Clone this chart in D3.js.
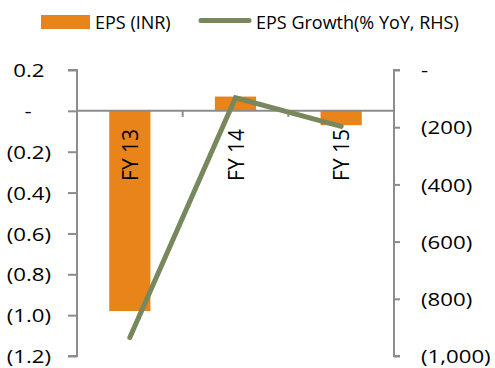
<!DOCTYPE html>
<html>
<head>
<meta charset="utf-8">
<script src="https://cdn.jsdelivr.net/npm/d3@7"></script>
<style>
body { margin: 0; background: #fff; }
text { font-family: "Open Sans", sans-serif; fill: #000; }
</style>
</head>
<body>
<div id="chart"></div>
<script>
let categories = ["FY 13", "FY 14", "FY 15"];
let eps = [-0.98, 0.07, -0.07];
let epsGrowth = [-935, -97, -197];
let leftTicks = [0.2, 0, -0.2, -0.4, -0.6, -0.8, -1.0, -1.2];
let rightTicks = [0, -200, -400, -600, -800, -1000];

let _default = {
    width: 495,
    height: 368,
    left: 77,
    right: 394,
    top: 70,
    bottom: 356,
    stretch: 1.17,
    bar_color: "#e8841a",
    line_color: "#77895c",
    axis_color: "#8c8c8c"
};

let svg = d3.select("div#chart").append("svg")
    .attr("width", _default.width)
    .attr("height", _default.height);

let x = d3.scaleBand().domain(categories).range([_default.left, _default.right]);
let yL = d3.scaleLinear().domain([-1.2, 0.2]).range([_default.bottom, _default.top]);
let yR = d3.scaleLinear().domain([-1000, 0]).range([_default.bottom, _default.top]);

let fmtL = d => d === 0 ? "-" : d < 0 ? `(${d3.format(".1f")(-d)})` : d3.format(".1f")(d);
let fmtR = d => d === 0 ? "-" : `(${d3.format(",")(-d)})`;

// bars
let barW = x.bandwidth() * 0.39;
svg.append("g").selectAll("rect").data(eps).enter().append("rect")
    .attr("x", (d, i) => x(categories[i]) + (x.bandwidth() - barW) / 2)
    .attr("y", d => yL(Math.max(0, d)))
    .attr("width", barW)
    .attr("height", d => Math.abs(yL(d) - yL(0)))
    .attr("fill", _default.bar_color);

// left axis
let gl = svg.append("g").attr("transform", `translate(${_default.left},0)`)
    .call(d3.axisLeft(yL).tickValues(leftTicks).tickSize(9).tickPadding(0).tickFormat(""));
gl.select(".domain").attr("d", `M-9,${_default.top}H0V${_default.bottom}H-9`);
gl.selectAll("line, .domain").attr("stroke", _default.axis_color).attr("stroke-width", 2);
let lt = gl.selectAll(".tick").append("text")
    .attr("x", -26 / _default.stretch)
    .attr("dy", "0.35em")
    .attr("text-anchor", "end")
    .attr("transform", `scale(${_default.stretch},1)`)
    .style("font-size", "19px");
lt.append("tspan").text(d => fmtL(d));
lt.append("tspan").attr("fill-opacity", 0).text(d => d === 0 ? "0)" : d > 0 ? ")" : "");

// right axis
let gr = svg.append("g").attr("transform", `translate(${_default.right},0)`)
    .call(d3.axisRight(yR).tickValues(rightTicks).tickSize(6).tickFormat(""));
gr.select(".domain").attr("d", `M6,${_default.top}H0V${_default.bottom}H6`);
gr.selectAll("line, .domain").attr("stroke", _default.axis_color).attr("stroke-width", 2);
gr.selectAll(".tick").append("text")
    .attr("x", 27 / _default.stretch)
    .attr("dy", "0.35em")
    .attr("text-anchor", "start")
    .attr("transform", `scale(${_default.stretch},1)`)
    .style("font-size", "19px")
    .text(d => fmtR(d));

// zero line with category ticks
let gx = svg.append("g").attr("transform", `translate(0,${yL(0)})`)
    .call(d3.axisBottom(x).tickSize(0).tickFormat(""));
gx.select(".domain").attr("d", `M${_default.left},0H${_default.right}`)
    .attr("stroke", _default.axis_color).attr("stroke-width", 2);
gx.selectAll(".tick").remove();
gx.selectAll("line.sep").data(categories.slice(1)).enter().append("line")
    .attr("class", "sep")
    .attr("x1", d => x(d)).attr("x2", d => x(d))
    .attr("y1", 0).attr("y2", 6)
    .attr("stroke", _default.axis_color).attr("stroke-width", 2);
gx.selectAll("text.cat").data(categories).enter().append("text")
    .attr("class", "cat")
    .attr("text-anchor", "end")
    .attr("transform", d => `translate(${x(d) + x.bandwidth() / 2 + 8},18) rotate(-90)`)
    .style("font-size", "21px")
    .text(d => d);

// growth line
let line = d3.line()
    .x((d, i) => x(categories[i]) + x.bandwidth() / 2)
    .y(d => yR(d));
svg.append("path").datum(epsGrowth)
    .attr("d", line)
    .attr("fill", "none")
    .attr("stroke", _default.line_color)
    .attr("stroke-width", 5)
    .attr("stroke-linecap", "round");

// legend
let lg = svg.append("g");
lg.append("rect").attr("x", 41).attr("y", 15).attr("width", 49).attr("height", 14).attr("fill", _default.bar_color);
lg.append("text").attr("x", 95).attr("y", 29).style("font-size", "18px").text("EPS (INR)");
lg.append("line").attr("x1", 201).attr("x2", 249).attr("y1", 20.5).attr("y2", 20.5)
    .attr("stroke", _default.line_color).attr("stroke-width", 5).attr("stroke-linecap", "round");
lg.append("text").attr("x", 256).attr("y", 29).style("font-size", "18px").text("EPS Growth(% YoY, RHS)");
</script>
</body>
</html>
